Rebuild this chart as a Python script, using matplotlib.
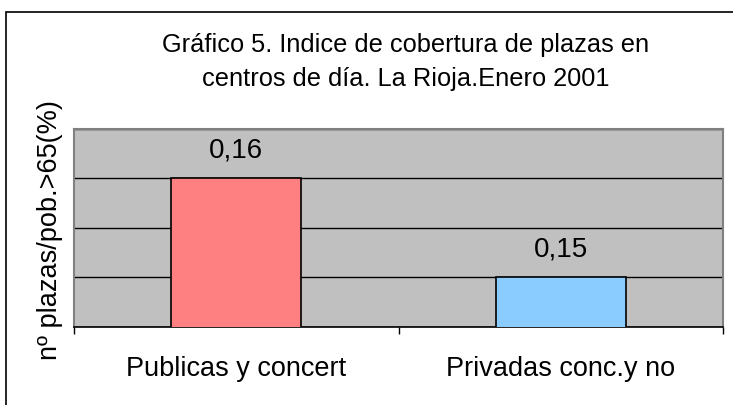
import matplotlib
matplotlib.use("Agg")
from matplotlib import pyplot as plt
from matplotlib.patches import Rectangle
import numpy as np

plt.rcParams['font.family'] = ['Liberation Sans', 'DejaVu Sans']

categories = ["Publicas y concert", "Privadas conc.y no"]
values = [0.16, 0.15]
value_labels = ["0,16", "0,15"]
bar_colors = ["#FF8080", "#8ACCFF"]

title = "Gráfico 5. Indice de cobertura de plazas en\ncentros de día. La Rioja.Enero 2001"
ylabel = "nº plazas/pob.>65(%)"

W, H = 733, 405
fig = plt.figure(figsize=(W / 100, H / 100), dpi=100)
ax = fig.add_axes([74 / W, 1 - 327 / H, (723 - 74) / W, (327 - 129) / H])

# outer chart frame (only left and top edges are inside the picture)
fig.patches.append(Rectangle((6 / W, -0.2), 1.2, 1 - 12 / H + 0.2, transform=fig.transFigure,
                             fill=False, edgecolor="black", linewidth=1.2))

ax.set_facecolor("#C0C0C0")
x = np.arange(len(categories))
ax.bar(x, values, width=0.4, color=bar_colors, edgecolor="black", linewidth=1.2, zorder=3)

ax.set_xlim(-0.5, 1.5)
ax.set_ylim(0.145, 0.165)
ax.set_yticks(np.arange(0.145, 0.1651, 0.005))
ax.yaxis.grid(True, color="black", linewidth=1)
ax.tick_params(axis="y", length=0, labelleft=False)

ax.set_xticks([-0.5, 0.5, 1.5])
ax.set_xticklabels([])
ax.set_xticks(x, minor=True)
ax.set_xticklabels(categories, minor=True, fontsize=19.5)
ax.tick_params(axis="x", which="major", length=5, width=1, direction="out")
ax.tick_params(axis="x", which="minor", length=0, pad=21)

for side in ["top", "right", "left"]:
    ax.spines[side].set_color("#808080")
    ax.spines[side].set_linewidth(1.5)
ax.spines["bottom"].set_color("black")
ax.spines["bottom"].set_linewidth(1.2)

for xi, v, lab in zip(x, values, value_labels):
    ax.annotate(lab, (xi, v), xytext=(0, 20), textcoords="offset points",
                ha="center", va="center", fontsize=20)

fig.text(406 / W, 1 - 62 / H, title, ha="center", va="center", fontsize=18.3, linespacing=1.55)
fig.text(50 / W, 1 - 230 / H, ylabel, ha="center", va="center", rotation=90, fontsize=19.5)

fig.savefig("out.png", dpi=100)
